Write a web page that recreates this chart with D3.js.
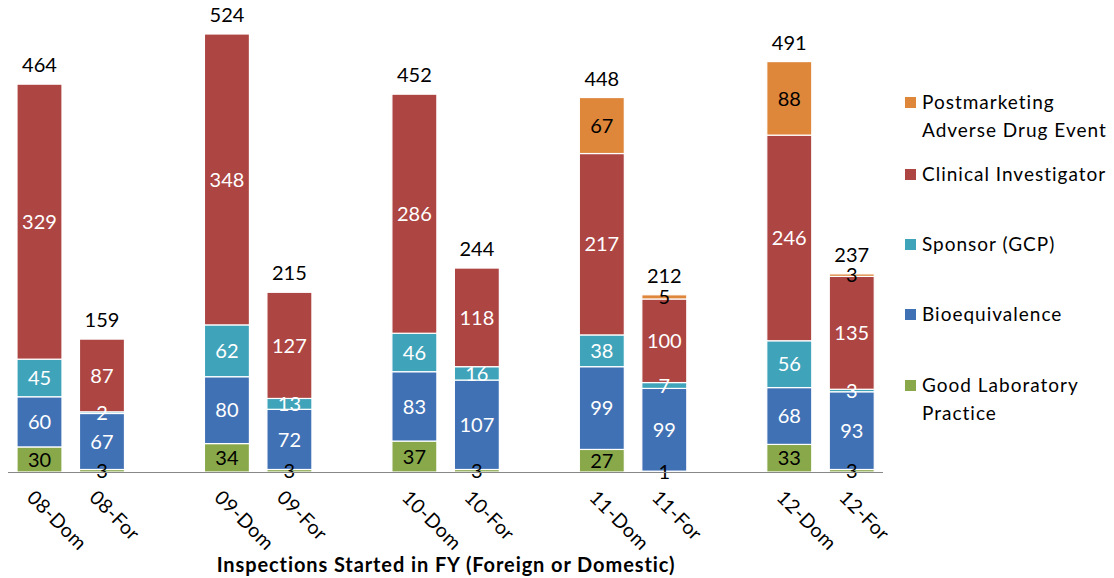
<!DOCTYPE html>
<html><head><meta charset="utf-8">
<script src="https://cdn.jsdelivr.net/npm/d3@7"></script>
<style>
html,body{margin:0;padding:0;background:#fff;}
text{font-family:Lato,"Open Sans",sans-serif;}
</style></head>
<body>
<svg id="chart" width="1114" height="578"></svg>
<script>
const categories = ["08-Dom","08-For","","09-Dom","09-For"," ","10-Dom","10-For","  ","11-Dom","11-For","   ","12-Dom","12-For"];
const barCategories = ["08-Dom","08-For","09-Dom","09-For","10-Dom","10-For","11-Dom","11-For","12-Dom","12-For"];
const goodLabPractice = [30,3,34,3,37,3,27,1,33,3];
const bioequivalence = [60,67,80,72,83,107,99,99,68,93];
const sponsorGCP = [45,2,62,13,46,16,38,7,56,3];
const clinicalInvestigator = [329,87,348,127,286,118,217,100,246,135];
const postmarketingADE = [0,0,0,0,0,0,67,5,88,3];
const seriesNames = ["Good Laboratory Practice","Bioequivalence","Sponsor (GCP)","Clinical Investigator","Postmarketing Adverse Drug Event"];
const seriesLegendLines = [["Good Laboratory","Practice"],["Bioequivalence"],["Sponsor (GCP)"],["Clinical Investigator"],["Postmarketing","Adverse Drug Event"]];
const seriesColors = ["#88A84A","#4171B5","#3FA3BA","#AD4543","#DE863A"];
const labelColors = ["#000","#fff","#fff","#fff","#000"];
const xTitle = "Inspections Started in FY (Foreign or Domestic)";

const seriesValues = [goodLabPractice,bioequivalence,sponsorGCP,clinicalInvestigator,postmarketingADE];
const rows = barCategories.map((c,i)=>{const r={cat:c}; seriesNames.forEach((s,k)=>r[s]=seriesValues[k][i]); return r;});
const stackData = d3.stack().keys(seriesNames)(rows);

const svg = d3.select("#chart");
const x = d3.scaleBand().domain(categories).range([8.25,883]).paddingInner(0.28).paddingOuter(0.14);
const y = d3.scaleLinear().domain([0,524]).range([472,34]);

const g = svg.append("g");
stackData.forEach((layer,k)=>{
  g.selectAll(null).data(layer.filter(d=>d[1]-d[0]>0)).enter().append("rect")
    .attr("x",d=>x(d.data.cat)).attr("width",x.bandwidth())
    .attr("y",d=>y(d[1])).attr("height",d=>y(d[0])-y(d[1]))
    .attr("fill",seriesColors[k]).attr("stroke","#fff").attr("stroke-width",1.2);
});
// axis line
svg.append("line").attr("x1",8).attr("x2",883).attr("y1",472.5).attr("y2",472.5).attr("stroke","#888").attr("stroke-width",1.2);

// segment labels
stackData.forEach((layer,k)=>{
  g.selectAll(null).data(layer.filter(d=>d[1]-d[0]>0)).enter().append("text")
    .attr("x",d=>x(d.data.cat)+x.bandwidth()/2)
    .attr("y",d=>(y(d[0])+y(d[1]))/2)
    .attr("dy","0.36em").attr("text-anchor","middle")
    .attr("font-size",20)
    .attr("fill",d=>{const v=d[1]-d[0]; if(k===0 && v<10) return "#000"; if(k===4) return "#000"; return labelColors[k];})
    .text(d=>d[1]-d[0]);
});
// totals
const topLayer = stackData[stackData.length-1];
g.selectAll(null).data(topLayer).enter().append("text")
  .attr("x",d=>x(d.data.cat)+x.bandwidth()/2)
  .attr("y",d=>y(d[1])-12).attr("text-anchor","middle").attr("font-size",20).attr("fill","#000")
  .text(d=>d[1]);

// x labels rotated
barCategories.forEach(c=>{
  const cx = x(c)+x.bandwidth()/2 - 4;
  svg.append("text").attr("transform",`translate(${cx},${489}) rotate(45)`)
    .attr("font-size",19.5).attr("letter-spacing",0.5).attr("fill","#000").attr("dy","0.7em").text(c);
});
// x title
svg.append("text").attr("x",446).attr("y",572).attr("text-anchor","middle")
  .attr("font-size",20).attr("letter-spacing",0.9).attr("font-weight","bold").text(xTitle);

// legend
const legendY = [392,321,251,181,109];
seriesNames.forEach((s,k)=>{
  svg.append("rect").attr("x",905).attr("y",legendY[k]-12).attr("width",11).attr("height",11).attr("fill",seriesColors[k]);
  const t = svg.append("text").attr("x",922).attr("y",legendY[k]).attr("font-size",19).attr("letter-spacing",1).attr("fill","#000");
  seriesLegendLines[k].forEach((ln,i)=>t.append("tspan").attr("x",922).attr("dy",i===0?0:27.5).text(ln));
});
</script>
</body></html>
